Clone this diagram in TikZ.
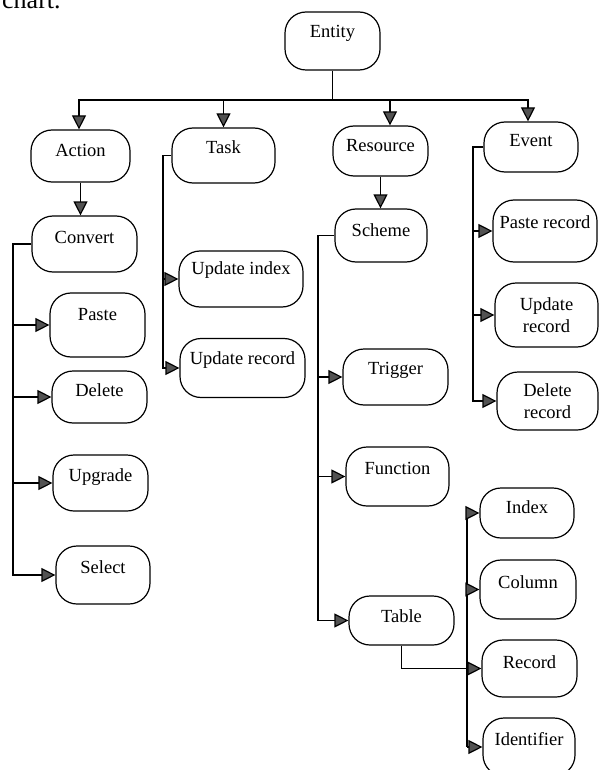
\documentclass[tikz,border=0pt]{standalone}
\usepackage{fontspec}
\setmainfont{Liberation Serif}
\usetikzlibrary{arrows.meta}
\newcommand{\R}[2]{\raisebox{#1pt}[\height][\depth]{#2}}
\begin{document}
\begin{tikzpicture}[x=1pt,y=-1pt,
  box/.style={draw, line width=1.2pt, rounded corners=21pt, inner sep=0pt,
    font=\fontsize{18.5}{22}\selectfont, align=center},
  ln/.style={line width=1.2pt},
  arr/.style={ln, -{Triangle[length=14pt,width=14pt,fill=black!68]}}
]
\useasboundingbox (0,0) rectangle (599,770);
% stray page text
\node[anchor=base west, inner sep=0pt, font=\fontsize{26}{30}\selectfont] (chart) at (2,9) {chart.};
% boxes
\node[box, minimum width=95pt, minimum height=58pt] (entity) at (332.5,41) {\R{8}{Entity}};
\node[box, minimum width=99pt, minimum height=52pt] (action) at (80.5,156) {\R{6}{Action}};
\node[box, minimum width=103pt, minimum height=55pt] (task) at (223.5,155.5) {\R{8}{Task}};
\node[box, minimum width=95pt, minimum height=50pt] (resource) at (380.5,151) {\R{5}{Resource}};
\node[box, minimum width=94pt, minimum height=50pt] (event) at (531,147) {\R{6}{Event}};
\node[box, minimum width=105pt, minimum height=56pt] (convert) at (84.5,244) {\R{7}{Convert}};
\node[box, minimum width=92pt, minimum height=53pt] (scheme) at (381,235.5) {\R{5}{Scheme}};
\node[box, minimum width=95pt, minimum height=64pt] (paste) at (97.5,325) {\R{10}{Paste}};
\node[box, minimum width=95pt, minimum height=52pt] (delete) at (99.5,397) {\R{7}{Delete}};
\node[box, minimum width=95pt, minimum height=56pt] (upgrade) at (100.5,483) {\R{6}{Upgrade}};
\node[box, minimum width=94pt, minimum height=58pt] (select) at (103,575) {\R{8}{Select}};
\node[box, minimum width=124pt, minimum height=56pt] (uidx) at (241,279) {\R{9}{Update index}};
\node[box, minimum width=125pt, minimum height=59pt] (urec) at (242.5,368) {\R{8}{Update record}};
\node[box, minimum width=104pt, minimum height=62pt] (prec) at (545,231) {\R{9}{Paste record}};
\node[box, minimum width=103pt, minimum height=64pt] (erec) at (546.5,315) {Update\\record};
\node[box, minimum width=101pt, minimum height=58pt] (drec) at (547.5,401) {Delete\\record};
\node[box, minimum width=105pt, minimum height=56pt] (trigger) at (395.5,377) {\R{7}{Trigger}};
\node[box, minimum width=103pt, minimum height=59pt] (function) at (397.5,476.5) {\R{8}{Function}};
\node[box, minimum width=105pt, minimum height=49pt] (table) at (401.5,620.5) {\R{4}{Table}};
\node[box, minimum width=94pt, minimum height=50pt] (index) at (527,513) {\R{6}{Index}};
\node[box, minimum width=96pt, minimum height=59pt] (column) at (528,589.5) {\R{7}{Column}};
\node[box, minimum width=95pt, minimum height=57pt] (record) at (529.5,668.5) {\R{6}{Record}};
\node[box, minimum width=92pt, minimum height=58pt] (identifier) at (529,747) {\R{8}{Identifier}};
% helper coordinates
\coordinate (bus) at (332,100);
\coordinate (cx) at (13,0);
\coordinate (tx) at (163,0);
\coordinate (ex) at (473,0);
\coordinate (sx) at (318,0);
\coordinate (tbx) at (467,0);
% top level
\draw[ln] (entity.south) -- (entity.south |- bus);
\draw[arr] (entity.south |- bus) -| ([xshift=-1.5pt]action.north);
\draw[arr] (entity.south |- bus) -| ([xshift=-3pt]event.north);
\draw[arr] (task.north |- bus) -- (task.north);
\draw[arr] ([xshift=9.5pt]resource.north |- bus) -- ([xshift=9.5pt]resource.north);
\draw[arr] (action.south) -- (action.south |- convert.north);
\draw[arr] (resource.south) -- (resource.south |- scheme.north);
% convert branch
\draw[arr] (convert.west) -- (convert.west -| cx) |- (select.west);
\foreach \n in {paste,delete,upgrade} \draw[arr] (\n.west -| cx) -- (\n.west);
% task branch
\draw[arr] (task.west) -- (task.west -| tx) |- (urec.west);
\draw[arr] (uidx.west -| tx) -- (uidx.west);
% event branch
\draw[arr] (event.west) -- (event.west -| ex) |- (drec.west);
\foreach \n in {prec,erec} \draw[arr] (\n.west -| ex) -- (\n.west);
% scheme branch
\draw[arr] (scheme.west) -- (scheme.west -| sx) |- (table.west);
\foreach \n in {trigger,function} \draw[arr] (\n.west -| sx) -- (\n.west);
% table branch
\draw[arr] (table.south) |- (record.west);
\draw[ln] (index.west -| tbx) -- (identifier.west -| tbx);
\foreach \n in {index,column,identifier} \draw[arr] (\n.west -| tbx) -- (\n.west);
\end{tikzpicture}
\end{document}
